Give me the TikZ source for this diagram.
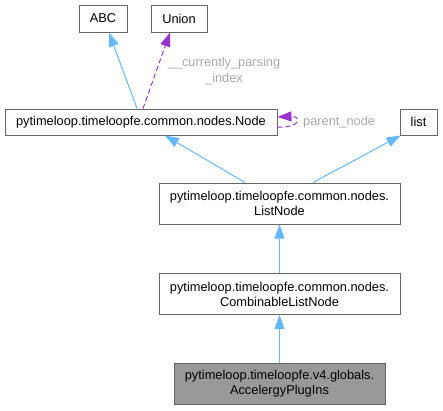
\documentclass[tikz,border=0pt]{standalone}
\usepackage{fontspec}
\setmainfont{Liberation Sans}
\usetikzlibrary{arrows.meta,calc}
\definecolor{edgeblue}{HTML}{63B8FF}
\definecolor{edgepurple}{HTML}{9A32CD}
\definecolor{boxborder}{HTML}{666666}
\definecolor{labelgray}{HTML}{A8A8A8}
\definecolor{boxgray}{HTML}{999999}
\tikzset{
  cls/.style={draw=boxborder, line width=1pt, fill=white, inner sep=0pt, align=center,
    font=\fontsize{12.8}{15}\selectfont},
  inh/.style={draw=edgeblue, line width=1pt, -{Triangle[length=14pt,width=10pt]}},
  use/.style={draw=edgepurple, line width=1pt, dash pattern=on 5pt off 3pt, -{Triangle[length=14pt,width=10pt]}},
  elabel/.style={text=labelgray, inner sep=0pt, align=center, font=\fontsize{12.8}{16}\selectfont},
}
\begin{document}
\begin{tikzpicture}[x=1pt,y=-1pt]
\useasboundingbox (0,0) rectangle (443,410);
\node[cls, minimum width=48pt, minimum height=27pt] (abc) at (103,18.5) {ABC};
\node[cls, minimum width=56pt, minimum height=27pt] (union) at (179,18.5) {Union};
\node[cls, minimum width=272pt, minimum height=26pt] (node) at (141,122) {pytimeloop.timeloopfe.common.nodes.Node};
\node[cls, minimum width=37pt, minimum height=26pt] (list) at (418.5,122) {list};
\node[cls, minimum width=241pt, minimum height=41pt] (listnode) at (279.5,203.5) {pytimeloop.timeloopfe.common.nodes.\\ListNode};
\node[cls, minimum width=241pt, minimum height=41pt] (comb) at (279.5,294) {pytimeloop.timeloopfe.common.nodes.\\CombinableListNode};
\node[cls, fill=boxgray, minimum width=211pt, minimum height=41pt] (acc) at (279.5,384) {pytimeloop.timeloopfe.v4.globals.\\AccelergyPlugIns};

\draw[inh] ($(node.north)+(-4,0)$) -- ($(abc.south)+(6,0)$);
\draw[use] ($(node.north)+(2,0)$) -- ($(union.south)+(-9,0)$);
\node[elabel] (lblcur) at (224,71) {\_\_currently\_parsing\\\_index};
\draw[use] ($(node.east)+(0,5)$) .. controls +(24,1) and +(24,-1) .. ($(node.east)+(0,-5)$);
\node[elabel, anchor=west] (lblpar) at (303,122) {parent\_node};
\draw[inh] ($(listnode.north)+(-34.5,0)$) -- ($(node.south)+(24,0)$);
\draw[inh] ($(listnode.north)+(33.5,0)$) -- ($(list.south west)+(1,0)$);
\draw[inh] (comb) -- (listnode);
\draw[inh] (acc) -- (comb);
\end{tikzpicture}
\end{document}
